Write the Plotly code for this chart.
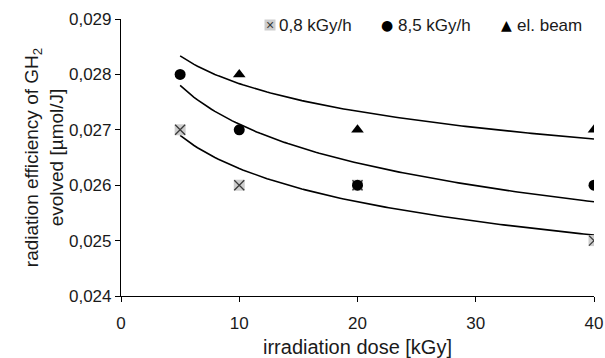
import numpy as np
import plotly.graph_objects as go

# Data
dose_08 = [5, 10, 20, 40]
eff_08 = [0.027, 0.026, 0.026, 0.025]
dose_85 = [5, 10, 20, 40]
eff_85 = [0.028, 0.027, 0.026, 0.026]
dose_eb = [10, 20, 40]
eff_eb = [0.028, 0.027, 0.027]

series_names = ["0,8 kGy/h", "8,5 kGy/h", "el. beam"]

x_ticks = [0, 10, 20, 30, 40]
y_ticks = [0.024, 0.025, 0.026, 0.027, 0.028, 0.029]
y_tick_labels = ["0,024", "0,025", "0,026", "0,027", "0,028", "0,029"]

FONT = "Liberation Sans, Arial, sans-serif"
TXT = "#1a1a1a"

def log_trend(xs, ys, x0=5, x1=40, n=120):
    # logarithmic least-squares trendline, as in the original chart
    a, b = np.polyfit(np.log(xs), ys, 1)
    xx = np.linspace(x0, x1, n)
    return xx, a * np.log(xx) + b

fig = go.Figure()

for xs, ys in [(dose_08, eff_08), (dose_85, eff_85), (dose_eb, eff_eb)]:
    tx, ty = log_trend(xs, ys)
    fig.add_trace(go.Scatter(x=tx, y=ty, mode="lines",
                             line=dict(color="black", width=1.6),
                             showlegend=False, hoverinfo="skip"))

# 0,8 kGy/h: light grey square with a dark cross
fig.add_trace(go.Scatter(x=dose_08, y=eff_08, mode="markers", showlegend=False,
                         marker=dict(symbol="square", size=11, color="#cdcdcd",
                                     line=dict(width=0))))
fig.add_trace(go.Scatter(x=dose_08, y=eff_08, mode="markers", name=series_names[0],
                         showlegend=False,
                         marker=dict(symbol="x-thin", size=10,
                                     line=dict(color="#3a3a3a", width=1.3))))
fig.add_trace(go.Scatter(x=dose_85, y=eff_85, mode="markers", name=series_names[1],
                         showlegend=False,
                         marker=dict(symbol="circle", size=11, color="black")))
fig.add_trace(go.Scatter(x=dose_eb, y=eff_eb, mode="markers", name=series_names[2],
                         showlegend=False,
                         marker=dict(symbol="triangle-up", size=11, color="black")))

# Legend drawn as annotations (compact spacing like the original)
LY = 0.978
anns = [
    dict(x=0.315, y=LY, text="×", bgcolor="#cdcdcd", width=10, height=10,
         borderpad=0, font=dict(size=14, color="#3a3a3a", family=FONT)),
    dict(x=0.330, y=LY, text=series_names[0], xanchor="left",
         font=dict(size=17, color=TXT, family=FONT)),
    dict(x=0.5624, y=LY, text="●", font=dict(size=14, color="black",
                                             family="DejaVu Sans")),
    dict(x=0.5814, y=LY, text=series_names[1], xanchor="left",
         font=dict(size=17, color=TXT, family=FONT)),
    dict(x=0.814, y=LY, text="▲", font=dict(size=14, color="black",
                                            family="DejaVu Sans")),
    dict(x=0.833, y=LY, text=series_names[2], xanchor="left",
         font=dict(size=17, color=TXT, family=FONT)),
]
for a in anns:
    a.update(xref="paper", yref="paper", yanchor="middle", showarrow=False)
    a.setdefault("xanchor", "center")
    fig.add_annotation(**a)

fig.update_layout(
    width=605, height=358,
    margin=dict(l=121, r=11, t=19, b=62),
    plot_bgcolor="white", paper_bgcolor="white",
    font=dict(family=FONT, size=17, color=TXT),
    showlegend=False,
)
fig.update_xaxes(range=[0, 40], tickvals=x_ticks, ticks="outside", ticklen=5,
                 tickcolor="black", showline=True, linecolor="black", linewidth=1.2,
                 showgrid=False, zeroline=False, ticklabelstandoff=6, automargin=False,
                 title=dict(text="irradiation dose [kGy]", font=dict(size=20), standoff=8))
fig.update_yaxes(range=[0.024, 0.029], tickvals=y_ticks, ticktext=y_tick_labels,
                 ticks="outside", ticklen=5, tickcolor="black", showline=True,
                 linecolor="black", linewidth=1.2, showgrid=False, zeroline=False,
                 automargin=False,
                 title=dict(text="radiation efficiency of GH<sub>2</sub><br>evolved [µmol/J]",
                            font=dict(size=19), standoff=0))

fig.write_html("out.html")
